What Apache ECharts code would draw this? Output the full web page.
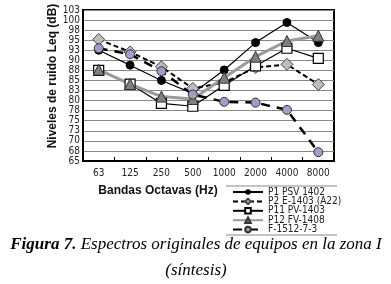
<!DOCTYPE html>
<html lang="es">
<head>
    <meta charset="UTF-8">
    <title>Figura 7</title>
    <script src="https://cdn.jsdelivr.net/npm/echarts@6/dist/echarts.min.js"></script>
    <style>
        body { margin: 0; background: #fff; }
    </style>
</head>
<body>
    <div id="chart" style="width: 391px; height: 284px;"></div>

    <script>
        // datos
        var bandas = ["63", "125", "250", "500", "1000", "2000", "4000", "8000"]
        var p1 = [92.5, 88.8, 85, 81.8, 87.6, 94.4, 99.4, 94.4]
        var p2 = [95.2, 92.1, 88.4, 83, 84.5, 88.2, 89, 84]
        var p11 = [87.5, 84.1, 79.3, 78.6, 83.8, 88.6, 93, 90.5]
        var p12 = [87.7, 84.1, 81, 80.4, 85.7, 90.9, 94.8, 96.1]
        var f1512 = [93, 91.5, 87.3, 81.5, 79.7, 79.5, 77.7, 67.2]

        var narrow = "'Liberation Sans Narrow', 'DejaVu Sans Condensed', 'Liberation Sans', sans-serif"

        var chart = echarts.init(document.getElementById("chart"))
        var option = {
            animation: false,
            backgroundColor: "#fff",
            grid: {
                left: 83, right: 57, top: 10, bottom: 123,
                show: true, borderColor: "#000", borderWidth: 2
            },
            legend: {
                orient: "vertical",
                left: 232, top: 187, padding: 0,
                itemWidth: 30, itemHeight: 7, itemGap: -0.6,
                textStyle: { fontFamily: narrow, fontSize: 10, color: "#222" },
                data: ["P1 PSV 1402", "P2 E-1403 (A22)", "P11 PV-1403", "P12 FV-1408", "F-1512-7-3"]
            },
            xAxis: {
                type: "category",
                data: bandas,
                boundaryGap: true,
                axisLine: { lineStyle: { color: "#000", width: 2 } },
                axisTick: { show: true, inside: true, length: 4, lineStyle: { color: "#000" } },
                axisLabel: { fontFamily: narrow, fontSize: 10, color: "#222", margin: 7 },
                splitLine: { show: false }
            },
            yAxis: {
                type: "value",
                min: 65, max: 102.5, interval: 2.5,
                axisLine: { show: true, lineStyle: { color: "#000", width: 2 } },
                axisTick: { show: false },
                axisLabel: {
                    fontFamily: narrow, fontSize: 10, color: "#222", margin: 3,
                    formatter: function (v) { return Math.round(v) }
                },
                splitLine: { lineStyle: { color: "#888", width: 1 } }
            },
            graphic: [
                {
                    type: "text", x: 53, y: 76, rotation: Math.PI / 2,
                    style: {
                        text: "Niveles de ruido Leq (dB)", fill: "#111",
                        font: "bold 12px 'Liberation Sans', Arial, sans-serif",
                        align: "center", verticalAlign: "middle"
                    }
                },
                {
                    type: "text", x: 158, y: 191,
                    style: {
                        text: "Bandas Octavas (Hz)", fill: "#111",
                        font: "bold 12px 'Liberation Sans', Arial, sans-serif",
                        align: "center", verticalAlign: "middle"
                    }
                },
                { type: "line", shape: { x1: 226, y1: 186, x2: 337, y2: 186 }, style: { stroke: "#888", lineWidth: 1 } },
                { type: "line", shape: { x1: 226, y1: 235, x2: 337, y2: 235 }, style: { stroke: "#888", lineWidth: 1 } },
                {
                    type: "text", x: 196, y: 245,
                    style: {
                        rich: {
                            b: { font: "italic bold 17px 'Liberation Serif', serif", fill: "#000" },
                            n: { font: "italic 17px 'Liberation Serif', serif", fill: "#000" }
                        },
                        text: "{b|Figura 7.}{n| Espectros originales de equipos en la zona I}",
                        align: "center", verticalAlign: "middle"
                    }
                },
                {
                    type: "text", x: 196, y: 271,
                    style: {
                        text: "(síntesis)", fill: "#000",
                        font: "italic 17px 'Liberation Serif', serif",
                        align: "center", verticalAlign: "middle"
                    }
                }
            ],
            series: [
                {
                    name: "P1 PSV 1402", type: "line", data: p1,
                    symbol: "circle", symbolSize: 8,
                    lineStyle: { color: "#000", width: 1.2 },
                    itemStyle: { color: "#000", borderColor: "#000" }
                },
                {
                    name: "P2 E-1403 (A22)", type: "line", data: p2,
                    symbol: "diamond", symbolSize: 12,
                    lineStyle: { color: "#000", width: 2, type: [5, 3] },
                    itemStyle: { color: "#bdbdbd", borderColor: "#444", borderWidth: 1 }
                },
                {
                    name: "P11 PV-1403", type: "line", data: p11,
                    symbol: "rect", symbolSize: 10,
                    lineStyle: { color: "#000", width: 1.2 },
                    itemStyle: { color: "#fff", borderColor: "#000", borderWidth: 1.2 }
                },
                {
                    name: "P12 FV-1408", type: "line", data: p12,
                    symbol: "triangle", symbolSize: 11,
                    lineStyle: { color: "#9a9a9a", width: 3 },
                    itemStyle: { color: "#808080", borderColor: "#333", borderWidth: 1 }
                },
                {
                    name: "F-1512-7-3", type: "line", data: f1512,
                    symbol: "circle", symbolSize: 9,
                    lineStyle: { color: "#000", width: 2.5, type: [9, 7] },
                    itemStyle: { color: "#a899c8", borderColor: "#333", borderWidth: 1 }
                }
            ]
        }
        chart.setOption(option)
    </script>
</body>
</html>
